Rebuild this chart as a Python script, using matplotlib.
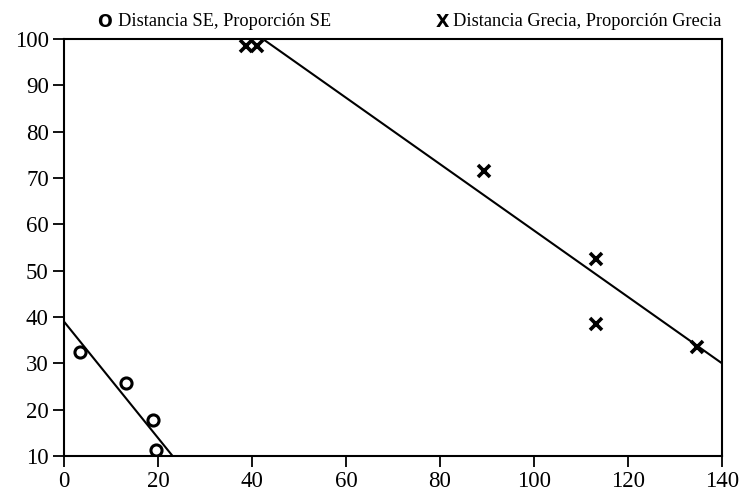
import matplotlib.pyplot as plt

# Spain (SE) points and fitted line
se_dist = [3.4, 13.1, 19.0, 19.6]
se_prop = [32.5, 25.8, 17.7, 11.4]
se_fit_x = [0, 23.1]
se_fit_y = [39.0, 10.0]

# Greece points and fitted line
gr_dist = [38.7, 41.1, 89.4, 113.1, 113.1, 134.6]
gr_prop = [98.5, 98.5, 71.6, 52.5, 38.4, 33.6]
gr_fit_x = [42.3, 140]
gr_fit_y = [100.0, 30.0]

x_ticks = [0, 20, 40, 60, 80, 100, 120, 140]
y_ticks = [10, 20, 30, 40, 50, 60, 70, 80, 90, 100]

serif = 'Liberation Serif'

fig = plt.figure(figsize=(7.49, 4.96), dpi=100)
ax = fig.add_axes([0.0855, 0.0806, 0.8785, 0.8408])

ax.plot(se_fit_x, se_fit_y, color='black', lw=1.5, zorder=2)
ax.plot(gr_fit_x, gr_fit_y, color='black', lw=1.5, zorder=2)
ax.plot(se_dist, se_prop, linestyle='none', marker='o', ms=8,
        mfc='none', mec='black', mew=2.2, zorder=3)
ax.plot(gr_dist, gr_prop, linestyle='none', marker='x', ms=8,
        mec='black', mew=2.6, zorder=3)

ax.set_xlim(0, 140)
ax.set_ylim(10, 100)
ax.set_xticks(x_ticks)
ax.set_yticks(y_ticks)
ax.tick_params(direction='out', length=8, width=1.3, labelsize=16.5, pad=3)
for lab in ax.get_xticklabels() + ax.get_yticklabels():
    lab.set_fontfamily(serif)
for sp in ax.spines.values():
    sp.set_linewidth(1.5)

# legend as text above the axes
fig.text(105 / 749, 1 - 22 / 496, 'O', fontsize=12.5, fontweight='bold',
         family='DejaVu Sans', ha='center', va='center')
fig.text(118 / 749, 1 - 22 / 496, 'Distancia SE, Proporción SE',
         fontsize=13.2, family=serif, ha='left', va='center')
fig.text(442 / 749, 1 - 22 / 496, 'X', fontsize=12.5, fontweight='heavy',
         family='DejaVu Sans', ha='center', va='center')
fig.text(453 / 749, 1 - 22 / 496, 'Distancia Grecia, Proporción Grecia',
         fontsize=13.2, family=serif, ha='left', va='center')

fig.savefig('out.png', dpi=100)
